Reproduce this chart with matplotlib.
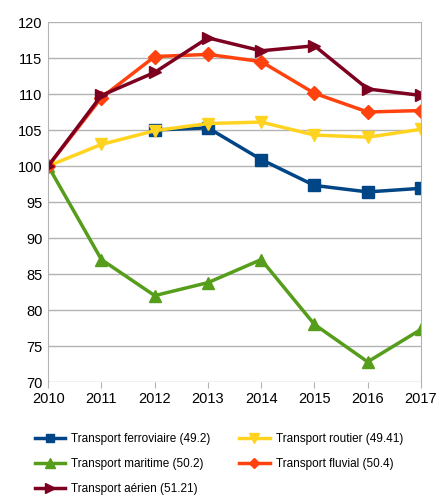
import numpy as np
import matplotlib
matplotlib.use("Agg")
import matplotlib.pyplot as plt

plt.rcParams['font.family'] = ['Liberation Sans', 'DejaVu Sans']

years = [2010, 2011, 2012, 2013, 2014, 2015, 2016, 2017]
rail = [np.nan, np.nan, 105.0, 105.3, 100.9, 97.3, 96.4, 96.9]
road = [100.0, 103.0, 104.9, 105.9, 106.1, 104.3, 104.0, 105.1]
sea = [100.0, 87.0, 82.0, 83.8, 87.0, 78.0, 72.8, 77.3]
river = [100.0, 109.5, 115.2, 115.5, 114.5, 110.1, 107.5, 107.7]
air = [100.0, 109.8, 113.0, 117.8, 116.0, 116.7, 110.7, 109.8]

labels = ["Transport ferroviaire (49.2)", "Transport routier (49.41)",
          "Transport maritime (50.2)", "Transport fluvial (50.4)",
          "Transport aérien (51.21)"]

fig = plt.figure(figsize=(4.38, 5.0), dpi=100)
ax = fig.add_axes([0.110, 0.236, 0.851, 0.720])

h_rail, = ax.plot(years, rail, color="#004586", lw=2.5, marker="s", ms=8, label=labels[0])
h_road, = ax.plot(years, road, color="#ffd320", lw=2.5, marker="v", ms=9, label=labels[1])
h_sea, = ax.plot(years, sea, color="#579d1c", lw=2.5, marker="^", ms=9, label=labels[2])
h_river, = ax.plot(years, river, color="#ff420e", lw=2.5, marker="D", ms=7, label=labels[3])
h_air, = ax.plot(years, air, color="#7e0021", lw=2.5, marker=">", ms=9, label=labels[4])

ax.set_xlim(2010, 2017)
ax.set_ylim(70, 120)
ax.set_xticks(years)
ax.set_yticks(range(70, 121, 5))
ax.grid(axis="y", color="#b3b3b3", lw=1)
ax.set_axisbelow(True)
for s in ["top", "bottom"]:
    ax.spines[s].set_visible(False)
for s in ["left", "right"]:
    ax.spines[s].set_color("#b3b3b3")
ax.tick_params(axis="y", length=0, labelsize=10.5, pad=4)
ax.tick_params(axis="x", length=4, color="#b3b3b3", labelsize=10.5, pad=3)
for l in ax.get_xticklines():
    l.set_clip_on(False)

# row-wise order like the original: matplotlib fills columns first
handles = [h_rail, h_sea, h_air, h_road, h_river]
fig.legend(handles=handles, labels=[h.get_label() for h in handles],
           loc="lower left", bbox_to_anchor=(0.055, -0.012), ncol=2, frameon=False,
           fontsize=8.5, handlelength=2.6, handletextpad=0.5, markerscale=0.8,
           columnspacing=2.4, labelspacing=1.1)

fig.savefig("out.png", dpi=100)
